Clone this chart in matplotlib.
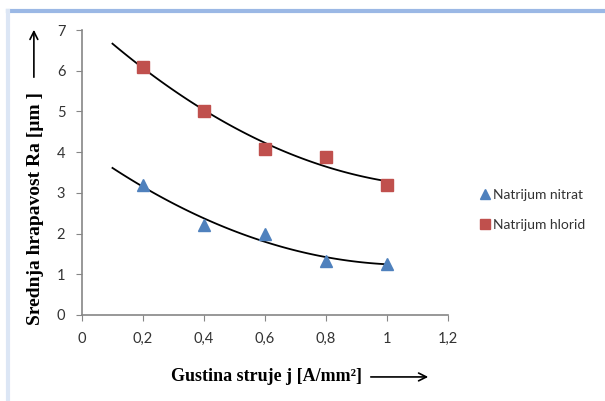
import numpy as np
import matplotlib
matplotlib.use('Agg')
import matplotlib.pyplot as plt
from matplotlib.lines import Line2D

# data
current_density = [0.2, 0.4, 0.6, 0.8, 1.0]
nitrat = [3.2, 2.21, 1.99, 1.33, 1.26]
hlorid = [6.1, 5.02, 4.07, 3.87, 3.2]
x_ticks = [0, 0.2, 0.4, 0.6, 0.8, 1.0, 1.2]
x_tick_labels = ['0', '0,2', '0,4', '0,6', '0,8', '1', '1,2']
y_ticks = [0, 1, 2, 3, 4, 5, 6, 7]

BLUE = '#4f81bd'
RED = '#c0504d'
GRAY = '#868686'

fig = plt.figure(figsize=(6.05, 4.01), dpi=100)
ax = fig.add_axes([0.1355, 0.2145, 0.605, 0.7105])

ax.plot(current_density, nitrat, linestyle='none', marker='^', markersize=9,
        color=BLUE, label='Natrijum nitrat')
ax.plot(current_density, hlorid, linestyle='none', marker='s', markersize=8,
        color=RED, label='Natrijum hlorid')

# 2nd order polynomial trendlines, extended back to 0.1 like Excel
xs = np.linspace(0.1, 1.0, 100)
for ys in (nitrat, hlorid):
    coef = np.polyfit(current_density, ys, 2)
    ax.plot(xs, np.polyval(coef, xs), color='black', linewidth=1.3, zorder=1)

ax.set_xlim(0, 1.2)
ax.set_ylim(0, 7)
ax.set_xticks(x_ticks)
ax.set_xticklabels(x_tick_labels)
ax.set_yticks(y_ticks)
for s in ('top', 'right'):
    ax.spines[s].set_visible(False)
for s in ('left', 'bottom'):
    ax.spines[s].set_color(GRAY)
    ax.spines[s].set_linewidth(1.2)
ax.tick_params(direction='out', length=4, color=GRAY, labelsize=10.5,
               labelcolor='#333333', pad=8)
for lbl in ax.get_xticklabels() + ax.get_yticklabels():
    lbl.set_family('Lato')

leg = ax.legend(loc='center left', bbox_to_anchor=(1.055, 0.37), frameon=False,
                prop={'family': 'Lato', 'size': 10}, handlelength=0.6,
                handletextpad=0.3, labelspacing=1.3, markerscale=0.85)
for t in leg.get_texts():
    t.set_color('#333333')

# axis titles with arrows
fig.text(0.058, 0.481, 'Srednja hrapavost Ra [µm ]', rotation=90,
         family='Liberation Serif', weight='bold', fontsize=14,
         ha='center', va='center')
fig.text(0.44, 0.06, 'Gustina struje j [A/mm²]', family='Liberation Serif',
         weight='bold', fontsize=13, ha='center', va='center')
fig.add_artist(matplotlib.patches.FancyArrowPatch(
    (0.056, 1 - 80 / 401), (0.056, 1 - 27 / 401), transform=fig.transFigure,
    arrowstyle='->', mutation_scale=14, linewidth=1.2, color='black'))
fig.add_artist(matplotlib.patches.FancyArrowPatch(
    (368 / 605, 0.06), (431 / 605, 0.06), transform=fig.transFigure,
    arrowstyle='->', mutation_scale=14, linewidth=1.2, color='black'))

# light blue frame like the pasted Excel chart
fig.add_artist(Line2D([8 / 605, 1], [1 - 11 / 401, 1 - 11 / 401],
                      transform=fig.transFigure, color='#9bb8e5', linewidth=3))
fig.add_artist(Line2D([8 / 605, 8 / 605], [0, 1 - 11 / 401],
                      transform=fig.transFigure, color='#dce6f5', linewidth=3))

fig.savefig('out.png', dpi=100)
